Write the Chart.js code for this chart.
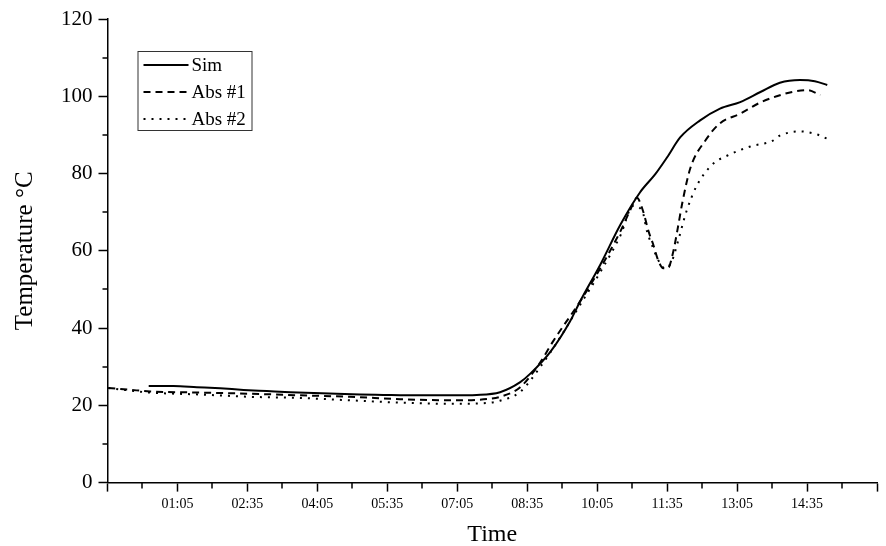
<!DOCTYPE html>
<html>
<head>
<meta charset="utf-8">
<script src="https://cdn.jsdelivr.net/npm/chart.js@4.4.1/dist/chart.umd.min.js"></script>
<style>
html, body { margin: 0; padding: 0; background: #fff; }
</style>
</head>
<body>
<canvas id="chart" width="886" height="546"></canvas>
<script>
// times are minutes of the day (negative = just before midnight), temperatures in °C
var simTime = [28, 60, 90, 120, 150, 180, 210, 240, 270, 300, 330, 360, 390, 420, 450, 480, 506, 519, 545, 570, 583, 609, 635, 660, 680, 695, 712, 737, 763, 789, 815, 840, 866, 885, 901];
var simTemp = [25.0, 25.0, 24.7, 24.4, 24.0, 23.7, 23.4, 23.2, 23.0, 22.8, 22.7, 22.6, 22.6, 22.6, 22.7, 23.4, 26.0, 28.2, 33.9, 41.7, 46.9, 56.4, 66.8, 75.1, 79.9, 84.2, 89.4, 93.7, 96.8, 98.5, 101.1, 103.5, 104.2, 103.9, 102.9];

var abs1Time = [-24, 5, 30, 95, 159, 223, 287, 352, 416, 467, 480, 506, 532, 548, 583, 609, 635, 647, 656, 664, 671, 677, 683, 690, 696, 703, 708, 715, 725, 744, 763, 789, 815, 836, 853, 875, 892];
var abs1Temp = [24.5, 24.0, 23.6, 23.3, 23.0, 22.6, 22.2, 21.6, 21.3, 21.7, 22.2, 24.7, 31.2, 36.5, 46.9, 55.5, 65.1, 70.3, 73.7, 70.3, 65.1, 61.7, 57.8, 55.5, 55.5, 59.9, 65.1, 72.9, 81.5, 88.5, 93.0, 95.5, 98.4, 100.0, 101.0, 101.6, 100.3];

var abs2Time = [-24, 5, 30, 95, 159, 223, 287, 352, 416, 455, 480, 506, 532, 557, 583, 609, 635, 651, 663, 669, 677, 683, 692, 701, 709, 720, 733, 754, 772, 802, 831, 840, 866, 888, 901];
var abs2Temp = [24.5, 23.8, 23.3, 22.8, 22.2, 21.9, 21.3, 20.7, 20.4, 20.5, 21.2, 23.5, 30.0, 37.5, 46.0, 54.5, 64.0, 71.6, 70.3, 65.1, 60.7, 57.8, 55.5, 57.3, 62.5, 70.3, 76.8, 82.5, 84.6, 87.0, 88.5, 89.8, 90.9, 90.1, 89.0];

var seriesNames = ['Sim', 'Abs #1', 'Abs #2'];
var xTickLabels = ['01:05', '02:35', '04:05', '05:35', '07:05', '08:35', '10:05', '11:35', '13:05', '14:35'];
var yTickLabels = [0, 20, 40, 60, 80, 100, 120];

var xMin = -25, xMax = 965, xStep = 45;

function toPoints(xs, ys) {
    return xs.map(function(x, i) { return { x: x, y: ys[i] }; });
}

function fmtTime(m) {
    m = ((m % 1440) + 1440) % 1440;
    var h = Math.floor(m / 60), mm = m % 60;
    return (h < 10 ? '0' : '') + h + ':' + (mm < 10 ? '0' : '') + mm;
}

function isMajorX(v) { return Math.round((v - xMin) / xStep) % 2 === 0; }
function isMajorY(v) { return v % 20 === 0; }

var serif = '"Liberation Serif", "Times New Roman", serif';

// minor ticks are shorter than the major ones, draw them by hand
var minorTicks = {
    id: 'minorTicks',
    afterDraw: function(chart) {
        var ctx = chart.ctx;
        var xs = chart.scales.x, ys = chart.scales.y;
        ctx.save();
        ctx.strokeStyle = '#000';
        ctx.lineWidth = 1.5;
        xs.ticks.forEach(function(t) {
            if (isMajorX(t.value)) return;
            var px = Math.round(xs.getPixelForValue(t.value));
            ctx.beginPath();
            ctx.moveTo(px, xs.top);
            ctx.lineTo(px, xs.top + 6);
            ctx.stroke();
        });
        ys.ticks.forEach(function(t) {
            if (isMajorY(t.value)) return;
            var py = Math.round(ys.getPixelForValue(t.value));
            ctx.beginPath();
            ctx.moveTo(ys.right, py);
            ctx.lineTo(ys.right - 5, py);
            ctx.stroke();
        });
        ctx.restore();
    }
};

// boxed legend inside the plot, top left
var boxLegend = {
    id: 'boxLegend',
    afterDraw: function(chart) {
        var ctx = chart.ctx;
        var area = chart.chartArea;
        var left = area.left + 30, top = area.top + 32;
        var w = 114, h = 79, rowH = 27;
        ctx.save();
        ctx.fillStyle = '#fff';
        ctx.fillRect(left, top, w, h);
        ctx.strokeStyle = '#333';
        ctx.lineWidth = 1;
        ctx.strokeRect(left + 0.5, top + 0.5, w, h);
        ctx.font = '19px ' + serif;
        ctx.textBaseline = 'middle';
        chart.data.datasets.forEach(function(ds, i) {
            var y = top + 14 + i * rowH;
            ctx.setLineDash(ds.borderDash || []);
            ctx.lineWidth = ds.borderWidth;
            ctx.strokeStyle = '#000';
            ctx.beginPath();
            ctx.moveTo(left + 6, y);
            ctx.lineTo(left + 51, y);
            ctx.stroke();
            ctx.setLineDash([]);
            ctx.fillStyle = '#000';
            ctx.fillText(ds.label, left + 54, y + 1);
        });
        ctx.restore();
    }
};

var ctx = document.getElementById('chart').getContext('2d');

window.chart = new Chart(ctx, {
    type: 'line',
    data: {
        datasets: [
            {
                label: seriesNames[0],
                data: toPoints(simTime, simTemp),
                borderColor: '#000',
                borderWidth: 2,
                pointRadius: 0,
                cubicInterpolationMode: 'monotone',
                fill: false
            },
            {
                label: seriesNames[1],
                data: toPoints(abs1Time, abs1Temp),
                borderColor: '#000',
                borderWidth: 2,
                borderDash: [7, 5],
                pointRadius: 0,
                cubicInterpolationMode: 'monotone',
                fill: false
            },
            {
                label: seriesNames[2],
                data: toPoints(abs2Time, abs2Temp),
                borderColor: '#000',
                borderWidth: 2,
                borderDash: [2, 6],
                pointRadius: 0,
                cubicInterpolationMode: 'monotone',
                fill: false
            }
        ]
    },
    options: {
        responsive: false,
        animation: false,
        layout: { padding: { top: 19, right: 9, left: 10, bottom: 0 } },
        plugins: {
            legend: { display: false },
            tooltip: { enabled: false }
        },
        scales: {
            x: {
                type: 'linear',
                min: xMin,
                max: xMax,
                afterBuildTicks: function(axis) {
                    var t = [];
                    for (var v = xMin; v <= xMax; v += xStep) t.push({ value: v });
                    axis.ticks = t;
                },
                grid: {
                    drawOnChartArea: false,
                    tickLength: 9,
                    tickWidth: 1.5,
                    tickColor: function(c) { return c.tick && isMajorX(c.tick.value) ? '#000' : 'rgba(0,0,0,0)'; }
                },
                border: { color: '#000', width: 1.5 },
                ticks: {
                    autoSkip: false,
                    maxRotation: 0,
                    padding: 4,
                    color: '#000',
                    font: { family: serif, size: 14 },
                    callback: function(v) {
                        var s = fmtTime(v);
                        return xTickLabels.indexOf(s) >= 0 ? s : '';
                    }
                },
                title: {
                    display: true,
                    text: 'Time',
                    color: '#000',
                    font: { family: serif, size: 24, lineHeight: 0.9 },
                    padding: { top: 8, bottom: 0 }
                }
            },
            y: {
                min: 0,
                max: 120,
                ticks: {
                    stepSize: 10,
                    padding: 6,
                    color: '#000',
                    font: { family: serif, size: 21 },
                    callback: function(v) { return yTickLabels.indexOf(v) >= 0 ? String(v) : ''; }
                },
                grid: {
                    drawOnChartArea: false,
                    tickLength: 9,
                    tickWidth: 1.5,
                    tickColor: function(c) { return c.tick && isMajorY(c.tick.value) ? '#000' : 'rgba(0,0,0,0)'; }
                },
                border: { color: '#000', width: 1.5 },
                title: {
                    display: true,
                    text: 'Temperature °C',
                    color: '#000',
                    font: { family: serif, size: 25 },
                    padding: { top: 0, bottom: 15 }
                }
            }
        }
    },
    plugins: [minorTicks, boxLegend]
});
</script>
</body>
</html>
